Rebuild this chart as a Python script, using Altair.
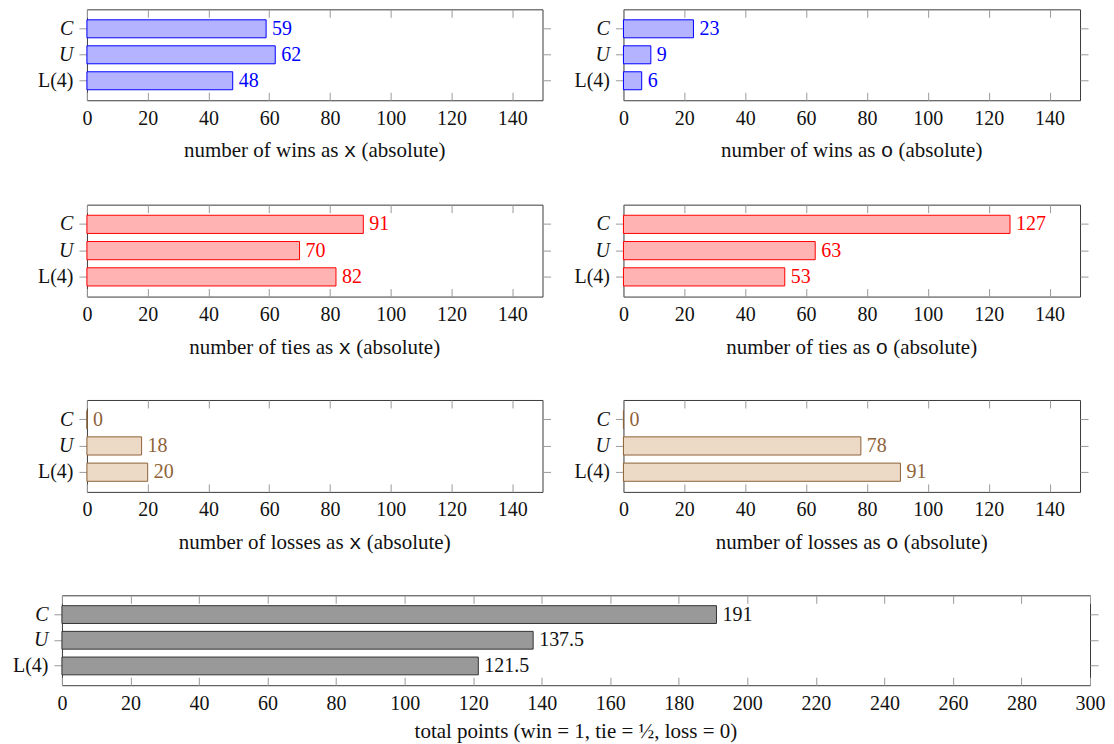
import altair as alt
import pandas as pd

models = ["C", "U", "L(4)"]
wins_x = [59, 62, 48]
wins_o = [23, 9, 6]
ties_x = [91, 70, 82]
ties_o = [127, 63, 53]
losses_x = [0, 18, 20]
losses_o = [0, 78, 91]
total_points = [191, 137.5, 121.5]

FONT = "Liberation Serif"
MONO = "Liberation Mono"
FS = 20
TFS = 21
TICK = "#9a9a9a"
FRAME = "#3a3a3a"

# Times / Liberation Serif advance widths (1/1000 em) for title layout
W = {" ": 250, "a": 444, "b": 500, "e": 444, "f": 333, "i": 278, "l": 278, "m": 778,
     "n": 500, "o": 500, "r": 333, "s": 389, "t": 278, "u": 500, "w": 722, "(": 333, ")": 333,
     "=": 564, ",": 250, "\u00bd": 750, "p": 500, "1": 500, "0": 500}

def tw(s):
    return sum(W.get(c, 500) for c in s) * TFS / 1000.0

def fmt(v):
    return str(int(v)) if float(v).is_integer() else str(v)

def one(text):
    return alt.Chart(pd.DataFrame({"t": [text]}))

def title_layers(parts, width, y):
    # parts: list of (text, font); laid out centred under the plot
    widths = [tw(t) if f == FONT else len(t) * 0.6 * TFS for t, f in parts]
    x = width / 2 - sum(widths) / 2
    out = []
    for (t, f), w in zip(parts, widths):
        lead = len(t) - len(t.lstrip(" "))
        xs = x + lead * tw(" ")
        out.append(one(t.strip(" ")).mark_text(align="left", baseline="alphabetic", font=f,
                                               fontSize=TFS, color="#111")
                   .encode(x=alt.value(xs), y=alt.value(y), text="t:N"))
        x += w
    return out

def panel(values, fill, stroke, text_color, parts, xmax, width, height, title_dy):
    df = pd.DataFrame({"model": models, "value": values,
                       "label": [fmt(v) for v in values]})
    base = alt.Chart(df)
    x = alt.X("value:Q",
              scale=alt.Scale(domain=[0, xmax], nice=False, zero=True),
              axis=alt.Axis(values=list(range(0, xmax + 1, 20)), grid=True,
                            gridDash=[8, height - 16], gridColor=TICK, gridOpacity=1,
                            gridWidth=1, ticks=False, domain=False,
                            labelPadding=8, labelFont=FONT, labelFontSize=FS,
                            labelColor="#111", labelFlush=False, title=None))
    yscale = alt.Scale(paddingInner=0.3077, paddingOuter=0.404)
    y_left = alt.Y("model:N", sort=models, scale=yscale,
                   axis=alt.Axis(orient="left", title=None, domain=False,
                                 ticks=True, tickSize=8, tickColor=TICK,
                                 labelPadding=6, labelFont=FONT, labelFontSize=FS,
                                 labelColor="#111",
                                 labelFontStyle={"condition": {"test": "datum.value == 'L(4)'",
                                                               "value": "normal"},
                                                 "value": "italic"}))
    y_right = alt.Y("model:N", sort=models, scale=yscale,
                    axis=alt.Axis(orient="right", title=None, domain=False,
                                  labels=False, ticks=True, tickSize=8,
                                  tickColor=TICK))
    bars = base.mark_bar(fill=fill, stroke=stroke, strokeWidth=1).encode(x=x, y=y_left)
    text = base.mark_text(align="left", baseline="middle", dx=6, font=FONT,
                          fontSize=FS, color=text_color).encode(x=x, y=y_right, text="label:N")
    layers = [bars, text] + title_layers(parts, width, height + title_dy)
    return alt.layer(*layers).resolve_axis(y="independent").properties(
        width=width, height=height,
        view=alt.ViewBackground(stroke=FRAME, strokeWidth=1))

BLUE = ("#b3b3ff", "#0000ff", "#0000ff")
RED = ("#ffb3b3", "#ff0000", "#ff0000")
BROWN = ("#ecd9c6", "#8f6238", "#8f6238")
GRAY = ("#999999", "#333333", "#111111")

def t(kind, who):
    return [("number of %s as " % kind, FONT), (who, MONO), (" (absolute)", FONT)]

spacer_df = pd.DataFrame({"a": [0]})

def spacer(w, h):
    return alt.Chart(spacer_df).mark_point(opacity=0, size=1).properties(
        width=w, height=h, view=alt.ViewBackground(stroke=None))

def row(left, right, h):
    return alt.hconcat(spacer(25, h), left, spacer(81, h), right, spacing=0, bounds="flush")

r1 = row(panel(wins_x, *BLUE, t("wins", "x"), 150, 456, 91, 57),
         panel(wins_o, *BLUE, t("wins", "o"), 150, 457, 91, 57), 91)
r2 = row(panel(ties_x, *RED, t("ties", "x"), 150, 456, 92, 57),
         panel(ties_o, *RED, t("ties", "o"), 150, 457, 92, 57), 92)
r3 = row(panel(losses_x, *BROWN, t("losses", "x"), 150, 456, 92, 57),
         panel(losses_o, *BROWN, t("losses", "o"), 150, 457, 92, 57), 92)
bottom = panel(total_points, *GRAY,
               [("total points (win = 1, tie = \u00bd, loss = 0)", FONT)], 300, 1029, 90, 53)

chart = alt.vconcat(r1, r2, r3, bottom, spacing=195.5, bounds="flush").properties(
    padding={"left": 3, "top": 0, "right": 0, "bottom": 0}
).configure_view(stroke=None).configure(background="white")

chart.save("out.html", embed_options={"renderer": "svg", "actions": False})
